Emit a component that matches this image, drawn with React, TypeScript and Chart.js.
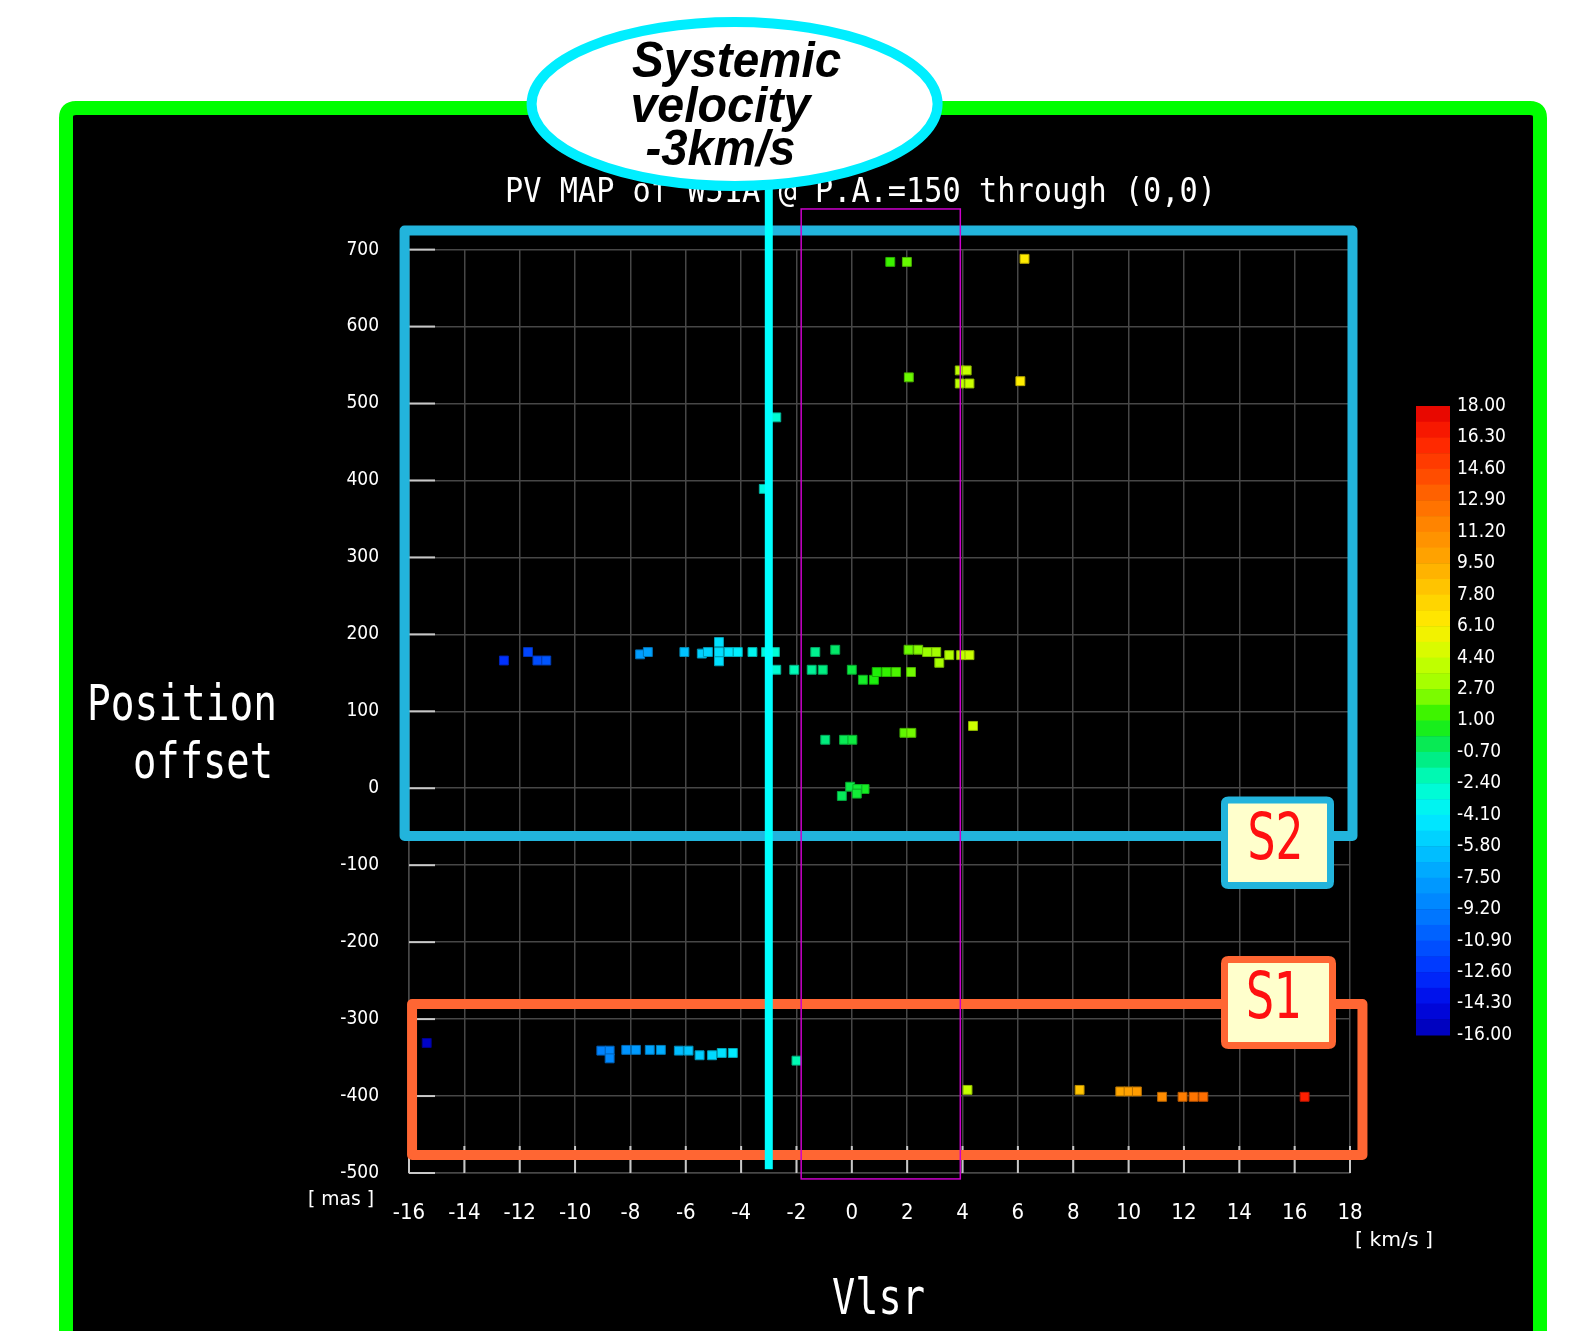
import React, { useEffect, useRef } from "react";
import { Chart, registerables } from "chart.js";

Chart.register(...registerables);

const W = 1591;
const H = 1331;

// ---- data (Vlsr in km/s, position offset in mas) ----
const s2Vlsr = [
  1.39, 1.99, 6.24, 2.06, 3.9, 4.15, 3.9, 4.25, 6.09, -2.73, -3.18,
  -12.57, -11.7, -11.36, -11.04, -7.65, -7.37, -6.05, -5.42, -5.2, -4.8, -4.45, -4.8, -4.8, -4.12, -3.59, -3.1, -2.78,
  -2.73, -2.08, -1.45, -1.05, -1.32, -0.6, 0.0, 0.4, 0.8, 0.9, 1.25, 1.6, 2.14, 2.05, 2.4, 2.72, 3.05, 3.16, 3.52, 3.95, 4.25,
  4.38, 1.9, 2.15, -0.96, -0.28, 0.02,
  -0.06, 0.46, 0.2, -0.36, 0.18,
];
const s2Offset = [
  684, 684, 688, 534, 543, 543, 526, 526, 529, 482, 389,
  166, 177, 166, 166, 174, 177, 177, 175, 177, 177, 177, 190, 165, 177, 177, 177, 177,
  154, 154, 154, 154, 177, 180, 154, 141, 141, 151, 151, 151, 151, 180, 180, 177, 177, 163, 173, 173, 173,
  81, 72, 72, 63, 63, 63,
  2, -1, -1, -10, -7,
];
const s1Vlsr = [
  -15.36, -9.05, -8.75, -8.75, -8.15, -7.8, -7.3, -6.9, -6.25, -5.9, -5.5, -5.05, -4.7, -4.3, -2.0,
  4.18, 8.23, 9.7, 10.0, 10.3, 11.21, 11.95, 12.35, 12.7, 16.36,
];
const s1Offset = [
  -331, -341, -341, -351, -340, -340, -340, -340, -341, -341, -347, -347, -344, -344, -354,
  -392, -392, -394, -394, -394, -401, -401, -401, -401, -401,
];

const systemicVelocity = -3;
const s2Box = { x0: -16.16, x1: 18.09, y0: -62, y1: 724.9 };
const s1Box = { x0: -15.89, x1: 18.45, y0: -476.6, y1: -280.3 };
const magentaBox = { x0: -1.83, x1: 3.92, y0: -507.7, y1: 752.8 };

const colorbarLabels = [
  "18.00", "16.30", "14.60", "12.90", "11.20", "9.50", "7.80", "6.10", "4.40", "2.70", "1.00",
  "-0.70", "-2.40", "-4.10", "-5.80", "-7.50", "-9.20", "-10.90", "-12.60", "-14.30", "-16.00",
];
const cmapStops = [-16, -14.3, -12.6, -10.9, -9.2, -7.5, -5.8, -4.1, -2.4, -0.7, 1.0, 2.7, 4.4, 6.1, 7.8, 9.5, 11.2, 12.9, 14.6, 16.3, 18];
const cmapHex = [
  "#0000b4", "#0008e6", "#0030ff", "#0058ff", "#0080ff", "#00a0ff", "#00c8ff", "#00f0ff", "#00ffc8", "#00e870",
  "#20f000", "#99ff00", "#ccff00", "#ffee00", "#ffcc00", "#ffaa00", "#ff8c00", "#ff6a00", "#ff4400", "#ff2000", "#e00000",
];

function hexToRgb(h: string): number[] {
  const n = parseInt(h.slice(1), 16);
  return [(n >> 16) & 255, (n >> 8) & 255, n & 255];
}
function cmapRgb(v: number): number[] {
  if (v <= cmapStops[0]) return hexToRgb(cmapHex[0]);
  for (let i = 1; i < cmapStops.length; i++) {
    if (v <= cmapStops[i]) {
      const t = (v - cmapStops[i - 1]) / (cmapStops[i] - cmapStops[i - 1]);
      const a = hexToRgb(cmapHex[i - 1]);
      const b = hexToRgb(cmapHex[i]);
      return a.map((c, k) => Math.round(c + (b[k] - c) * t));
    }
  }
  return hexToRgb(cmapHex[cmapHex.length - 1]);
}
const cmap = (v: number) => {
  const [r, g, b] = cmapRgb(v);
  return `rgb(${r},${g},${b})`;
};
const cmapDark = (v: number) => {
  const [r, g, b] = cmapRgb(v);
  return `rgb(${Math.round(r * 0.72)},${Math.round(g * 0.72)},${Math.round(b * 0.72)})`;
};

function fitText(ctx: CanvasRenderingContext2D, text: string, x: number, y: number, width: number, font: string, align: CanvasTextAlign = "left", baseline: CanvasTextBaseline = "alphabetic") {
  ctx.save();
  ctx.font = font;
  const m = ctx.measureText(text).width;
  const sx = width / m;
  ctx.translate(x, y);
  ctx.scale(sx, 1);
  ctx.textAlign = align;
  ctx.textBaseline = baseline;
  ctx.fillText(text, 0, 0);
  ctx.restore();
}

function roundRect(ctx: CanvasRenderingContext2D, x: number, y: number, w: number, h: number, r: number) {
  ctx.beginPath();
  ctx.moveTo(x + r, y);
  ctx.lineTo(x + w - r, y);
  ctx.quadraticCurveTo(x + w, y, x + w, y + r);
  ctx.lineTo(x + w, y + h - r);
  ctx.quadraticCurveTo(x + w, y + h, x + w - r, y + h);
  ctx.lineTo(x + r, y + h);
  ctx.quadraticCurveTo(x, y + h, x, y + h - r);
  ctx.lineTo(x, y + r);
  ctx.quadraticCurveTo(x, y, x + r, y);
  ctx.closePath();
}

const MONO = '"DejaVu Sans Mono", monospace';
const COND = '"DejaVu Sans Condensed", "Liberation Sans Narrow", "DejaVu Sans", sans-serif';

const decorPlugin = {
  id: "decor",
  beforeDraw(chart: any) {
    const ctx: CanvasRenderingContext2D = chart.ctx;
    ctx.save();
    ctx.fillStyle = "#ffffff";
    ctx.fillRect(0, 0, W, H);
    roundRect(ctx, 66, 108, 1474, 1320, 10);
    ctx.fillStyle = "#000000";
    ctx.fill();
    ctx.lineWidth = 14;
    ctx.strokeStyle = "#00ff00";
    ctx.stroke();
    ctx.restore();
  },
  beforeDatasetsDraw(chart: any) {
    const ctx: CanvasRenderingContext2D = chart.ctx;
    const { left, bottom } = chart.chartArea;
    const xs = chart.scales.x;
    const ys = chart.scales.y;
    ctx.save();
    ctx.strokeStyle = "#c8c8c8";
    ctx.lineWidth = 2;
    ys.ticks.forEach((t: any) => {
      const py = ys.getPixelForValue(t.value);
      ctx.beginPath();
      ctx.moveTo(left, py);
      ctx.lineTo(left + 26, py);
      ctx.stroke();
    });
    xs.ticks.forEach((t: any) => {
      const px = xs.getPixelForValue(t.value);
      ctx.beginPath();
      ctx.moveTo(px, bottom);
      ctx.lineTo(px, bottom - 27);
      ctx.stroke();
    });
    ctx.restore();
  },
  afterDraw(chart: any) {
    const ctx: CanvasRenderingContext2D = chart.ctx;
    const xs = chart.scales.x;
    const ys = chart.scales.y;
    const X = (v: number) => xs.getPixelForValue(v);
    const Y = (v: number) => ys.getPixelForValue(v);
    ctx.save();

    // title and axis texts
    ctx.fillStyle = "#ffffff";
    fitText(ctx, "PV MAP of W51A @ P.A.=150 through (0,0)", 505, 202, 711, `34px ${MONO}`);
    fitText(ctx, "Position", 87, 720, 190, `50px ${MONO}`);
    fitText(ctx, "offset", 133, 778, 140, `50px ${MONO}`);
    fitText(ctx, "Vlsr", 832, 1314, 93, `50px ${MONO}`);
    fitText(ctx, "[ mas ]", 308, 1205, 66, `20px ${COND}`);
    fitText(ctx, "[ km/s ]", 1355, 1246, 78, `20px ${COND}`);

    // colour bar
    const cbTop = 406, cbBot = 1035, cbL = 1416, cbR = 1450;
    const nBands = 40;
    const vMin = cmapStops[0], vMax = cmapStops[cmapStops.length - 1];
    for (let i = 0; i < nBands; i++) {
      const v = vMax - (i + 0.5) * (vMax - vMin) / nBands;
      const y0 = cbTop + (i * (cbBot - cbTop)) / nBands;
      const y1 = cbTop + ((i + 1) * (cbBot - cbTop)) / nBands;
      ctx.fillStyle = cmap(v);
      ctx.fillRect(cbL, y0, cbR - cbL, y1 - y0 + 0.5);
    }
    ctx.fillStyle = "#ffffff";
    ctx.font = `19px ${COND}`;
    ctx.textAlign = "left";
    ctx.textBaseline = "middle";
    colorbarLabels.forEach((lab, i) => {
      const y = cbTop + (i * (cbBot - cbTop)) / (colorbarLabels.length - 1);
      ctx.fillText(lab, 1457, y);
    });

    // S2 / S1 boxes
    ctx.lineJoin = "round";
    ctx.lineWidth = 10;
    ctx.strokeStyle = "#22b4dc";
    ctx.strokeRect(X(s2Box.x0), Y(s2Box.y1), X(s2Box.x1) - X(s2Box.x0), Y(s2Box.y0) - Y(s2Box.y1));
    ctx.strokeStyle = "#ff6633";
    ctx.strokeRect(X(s1Box.x0), Y(s1Box.y1), X(s1Box.x1) - X(s1Box.x0), Y(s1Box.y0) - Y(s1Box.y1));

    // magenta window
    ctx.lineWidth = 1.5;
    ctx.lineJoin = "miter";
    ctx.strokeStyle = "#cc00cc";
    ctx.strokeRect(X(magentaBox.x0), Y(magentaBox.y1), X(magentaBox.x1) - X(magentaBox.x0), Y(magentaBox.y0) - Y(magentaBox.y1));

    // systemic velocity line
    ctx.strokeStyle = "#00ffff";
    ctx.lineWidth = 8;
    ctx.beginPath();
    ctx.moveTo(X(systemicVelocity), Y(-495));
    ctx.lineTo(X(systemicVelocity), 140);
    ctx.stroke();

    // ellipse callout
    ctx.beginPath();
    ctx.ellipse(734.6, 104, 203, 82, 0, 0, Math.PI * 2);
    ctx.fillStyle = "#ffffff";
    ctx.fill();
    ctx.lineWidth = 10;
    ctx.strokeStyle = "#00eeff";
    ctx.stroke();
    ctx.fillStyle = "#000000";
    const BI = `italic bold 50px "Liberation Sans", Arial, sans-serif`;
    fitText(ctx, "Systemic", 736.6, 77, 209, BI, "center");
    fitText(ctx, "velocity", 720.4, 122, 180, BI, "center");
    fitText(ctx, "-3km/s", 720.4, 165, 150, BI, "center");

    // label boxes
    const labelBox = (x0: number, y0: number, x1: number, y1: number, stroke: string, text: string, cx: number, cy: number) => {
      roundRect(ctx, x0 + 3.5, y0 + 3.5, x1 - x0 - 7, y1 - y0 - 7, 4);
      ctx.fillStyle = "#ffffcc";
      ctx.fill();
      ctx.lineWidth = 7;
      ctx.strokeStyle = stroke;
      ctx.stroke();
      ctx.fillStyle = "#ff1010";
      fitText(ctx, text, cx, cy, 56, `64px "DejaVu Sans", sans-serif`, "center", "middle");
    };
    labelBox(1221, 796.5, 1334, 889, "#22b4dc", "S2", 1275.5, 842);
    labelBox(1221, 956, 1336, 1049, "#ff6633", "S1", 1274, 1001);

    ctx.restore();
  },
};

export default function App() {
  const ref = useRef<HTMLCanvasElement>(null);
  useEffect(() => {
    document.body.style.margin = "0";
    document.body.style.overflow = "hidden";
    const mk = (vs: number[], os: number[], label: string) => ({
      label,
      data: vs.map((v, i) => ({ x: v, y: os[i] })),
      backgroundColor: vs.map(cmap),
      borderColor: vs.map(cmapDark),
      borderWidth: 1,
      pointStyle: "rect",
      pointRadius: 6.3,
      pointHoverRadius: 6.3,
    });
    const gridColor = "#474747";
    const chart = new Chart(ref.current as HTMLCanvasElement, {
      type: "scatter",
      data: { datasets: [mk(s2Vlsr, s2Offset, "S2"), mk(s1Vlsr, s1Offset, "S1")] as any },
      options: {
        responsive: false,
        animation: false,
        devicePixelRatio: 1,
        events: [],
        layout: { padding: { left: 0, top: 249.6, right: 241, bottom: 78 } },
        plugins: {
          legend: { display: false },
          tooltip: { enabled: false },
          title: { display: false },
        },
        scales: {
          x: {
            type: "linear",
            position: "bottom",
            min: -16,
            max: 18,
            ticks: {
              stepSize: 2,
              color: "#ffffff",
              font: { family: COND, size: 22 },
              padding: 27,
              maxRotation: 0,
              autoSkip: false,
            },
            grid: { color: gridColor, lineWidth: 1.5, drawTicks: false },
            border: { display: true, color: gridColor, width: 1.5 },
            afterFit: (s: any) => {
              s.height = 80;
            },
          },
          y: {
            type: "linear",
            min: -500,
            max: 700,
            ticks: {
              stepSize: 100,
              color: "#ffffff",
              font: { family: COND, size: 19 },
              padding: 30,
            },
            grid: { color: gridColor, lineWidth: 1.5, drawTicks: false },
            border: { display: true, color: gridColor, width: 1.5 },
            afterFit: (s: any) => {
              s.width = 409;
            },
          },
        },
      } as any,
      plugins: [decorPlugin],
    });
    return () => chart.destroy();
  }, []);
  return (
    <div style={{ position: "absolute", left: 0, top: 0, width: W, height: H, overflow: "hidden" }}>
      <canvas ref={ref} width={W} height={H} style={{ display: "block", width: W, height: H }} />
    </div>
  );
}
